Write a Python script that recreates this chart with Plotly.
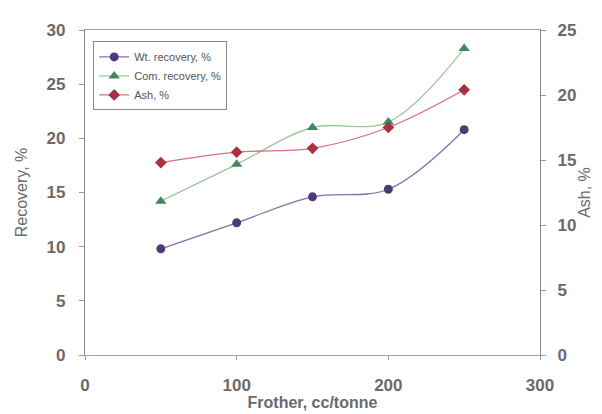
import plotly.graph_objects as go

frother = [50, 100, 150, 200, 250]
wt_recovery = [9.8, 12.2, 14.6, 15.3, 20.8]
com_recovery = [14.2, 17.6, 21.0, 21.5, 28.3]
ash = [14.8, 15.6, 15.9, 17.5, 20.4]

fig = go.Figure()
fig.add_trace(go.Scatter(x=frother, y=wt_recovery, name="Wt. recovery, %", mode="lines+markers",
                         line=dict(color="#8a6fa8", width=1.3, shape="spline"),
                         marker=dict(symbol="circle", size=9, color="#4d3a78")))
fig.add_trace(go.Scatter(x=frother, y=com_recovery, name="Com. recovery, %", mode="lines+markers",
                         line=dict(color="#9cc79a", width=1.3, shape="spline"),
                         marker=dict(symbol="triangle-up", size=10, color="#3d8a5e")))
fig.add_trace(go.Scatter(x=frother, y=ash, name="Ash, %", mode="lines+markers", yaxis="y2",
                         line=dict(color="#d9707e", width=1.3, shape="spline"),
                         marker=dict(symbol="diamond", size=9, color="#a8303f")))

tf = dict(family="Liberation Sans, Arial", size=17, color="#6a6a6a", weight="bold")
fig.update_layout(
    width=594, height=406,
    margin=dict(l=77, r=62, t=22, b=59, autoexpand=False),
    paper_bgcolor="white", plot_bgcolor="white",
    font=dict(family="Liberation Sans, Arial", color="#6a6a6a"),
    xaxis=dict(range=[0, 300], tickvals=[0, 100, 200, 300], showgrid=False, zeroline=False,
               showline=True, linecolor="#d98a8f", linewidth=1.2, mirror=True, automargin=False,
               ticks="outside", ticklen=4, tickcolor="#999", ticklabelstandoff=10,
               tickfont=tf,
               title=dict(text="<b>Frother, cc/tonne</b>", font=dict(size=16, color="#6a6a6a"), standoff=0)),
    yaxis=dict(range=[0, 30], tickvals=[0, 5, 10, 15, 20, 25, 30], showgrid=False, zeroline=False,
               showline=True, linecolor="#888", linewidth=1.2, automargin=False,
               ticks="outside", ticklen=5, tickcolor="#999", ticklabelstandoff=10,
               tickfont=tf,
               title=dict(text="Recovery, %", font=dict(size=16, color="#6a6a6a"), standoff=14)),
    yaxis2=dict(range=[0, 25], tickvals=[0, 5, 10, 15, 20, 25], overlaying="y", side="right",
                showgrid=False, zeroline=False, showline=True, linecolor="#888", linewidth=1.2,
                automargin=False, ticks="outside", ticklen=5, tickcolor="#999", ticklabelstandoff=8,
                tickfont=tf,
                title=dict(text="Ash, %", font=dict(size=16, color="#6a6a6a"), standoff=0)),
    legend=dict(x=0.018, y=0.965, xanchor="left", yanchor="top", bgcolor="white",
                bordercolor="#888", borderwidth=1, font=dict(size=11, color="#555"),
                itemwidth=30, tracegroupgap=0),
    showlegend=True,
)

fig.write_html("out.html")
